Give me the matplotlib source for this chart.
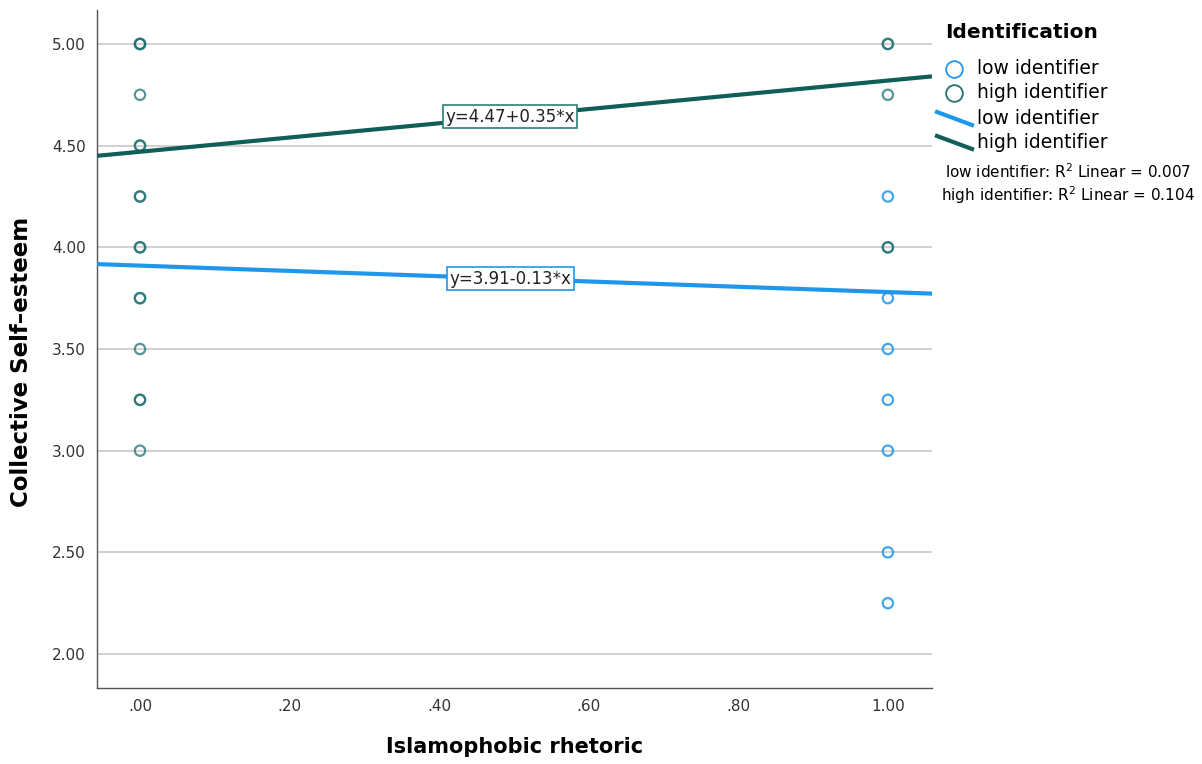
"""Collective self-esteem by Islamophobic rhetoric, split by identification."""

import matplotlib.pyplot as plt
from matplotlib.lines import Line2D

# scatter data (visible points, overlapping ones repeated)
LOW_X = [1, 1, 1, 1, 1, 1, 1]
LOW_Y = [4.25, 3.75, 3.50, 3.25, 3.00, 2.50, 2.25]
HIGH_X = [0, 0, 0, 0, 0, 0, 0, 0, 0, 0, 0, 0, 0, 0, 0, 0, 1, 1, 1, 1, 1]
HIGH_Y = [5.00, 5.00, 5.00, 4.75, 4.50, 4.50, 4.25, 4.25, 4.00, 4.00,
          3.75, 3.75, 3.50, 3.25, 3.25, 3.00, 5.00, 5.00, 4.75, 4.00, 4.00]

# fit lines
INTERCEPTS = {"low identifier": 3.91, "high identifier": 4.47}
SLOPES = {"low identifier": -0.13, "high identifier": 0.35}
R2 = {"low identifier": 0.007, "high identifier": 0.104}
FIT_LABELS = {"low identifier": "y=3.91-0.13*x", "high identifier": "y=4.47+0.35*x"}

X_TICKS = [0.0, 0.2, 0.4, 0.6, 0.8, 1.0]
Y_TICKS = [2.0, 2.5, 3.0, 3.5, 4.0, 4.5, 5.0]

BLUE = "#1f97ea"
TEAL = "#0f5e57"
TEAL_MARK = "#1f7373"

fig = plt.figure(figsize=(12.02, 7.64), dpi=100)
ax = fig.add_axes([97 / 1202, 1 - 688 / 764, (932 - 97) / 1202, (688 - 10) / 764])
ax.set_xlim(-0.0575, 1.059)
ax.set_ylim(1.833, 5.167)

for y in Y_TICKS:
    ax.axhline(y, color="#c8c8c8", lw=1.2, zorder=0)

ax.scatter(LOW_X, LOW_Y, s=55, facecolors="none", edgecolors=BLUE,
           linewidths=1.6, alpha=0.85, zorder=3)
ax.scatter(HIGH_X, HIGH_Y, s=55, facecolors="none", edgecolors=TEAL_MARK,
           linewidths=1.6, alpha=0.75, zorder=3)

xs = [ax.get_xlim()[0], ax.get_xlim()[1]]
for name, col in [("low identifier", BLUE), ("high identifier", TEAL)]:
    b0, b1 = INTERCEPTS[name], SLOPES[name]
    ax.plot(xs, [b0 + b1 * x for x in xs], color=col, lw=3, zorder=4,
            solid_capstyle="butt")
    xl = 0.495
    ax.text(xl, b0 + b1 * xl, FIT_LABELS[name], ha="center", va="center",
            fontsize=12, color="#222222", zorder=5,
            bbox=dict(boxstyle="square,pad=0.15", fc="white",
                      ec=BLUE if col == BLUE else "#2a8078", lw=1.2))

ax.set_xticks(X_TICKS)
ax.set_xticklabels([f"{t:.2f}".lstrip("0") if t < 1 else f"{t:.2f}" for t in X_TICKS])
ax.set_yticks(Y_TICKS)
ax.set_yticklabels([f"{t:.2f}" for t in Y_TICKS])
ax.tick_params(labelsize=11, colors="#333333", length=0, pad=8)
for sp in ("top", "right"):
    ax.spines[sp].set_visible(False)
for sp in ("left", "bottom"):
    ax.spines[sp].set_color("#555555")
    ax.spines[sp].set_linewidth(1.0)

ax.set_xlabel("Islamophobic rhetoric", fontsize=15, fontweight="bold",
              va="center")
ax.set_ylabel("Collective Self\u2013esteem", fontsize=16.5, fontweight="bold",
              va="center")
ax.xaxis.set_label_coords(0.5, (688 - 747) / 678)
ax.yaxis.set_label_coords((22 - 97) / 835, (688 - 362) / 678)


# legend drawn by hand to the right of the plot
def fx(px):
    return px / 1202


def fy(py):
    return 1 - py / 764


fig.text(fx(945), fy(33), "Identification", fontsize=14.5, fontweight="bold",
         va="center", ha="left")
for py, col, lab in [(69, BLUE, "low identifier"), (93, TEAL_MARK, "high identifier")]:
    fig.add_artist(Line2D([fx(954)], [fy(py)], marker="o", ms=12, mfc="none",
                          mec=col, mew=1.3, ls="none"))
    fig.text(fx(977), fy(py), lab, fontsize=13.5, va="center", ha="left")
for py, col, lab in [(118, BLUE, "low identifier"), (142, TEAL, "high identifier")]:
    fig.add_artist(Line2D([fx(937), fx(972)], [fy(py - 6), fy(py + 7)],
                          color=col, lw=3))
    fig.text(fx(977), fy(py), lab, fontsize=13.5, va="center", ha="left")
for py, name in [(172, "low identifier"), (195, "high identifier")]:
    fig.text(fx(1068), fy(py), f"{name}: R$^2$ Linear = {R2[name]:.3f}",
             fontsize=11, va="center", ha="center")

fig.savefig("out.png", dpi=100)
